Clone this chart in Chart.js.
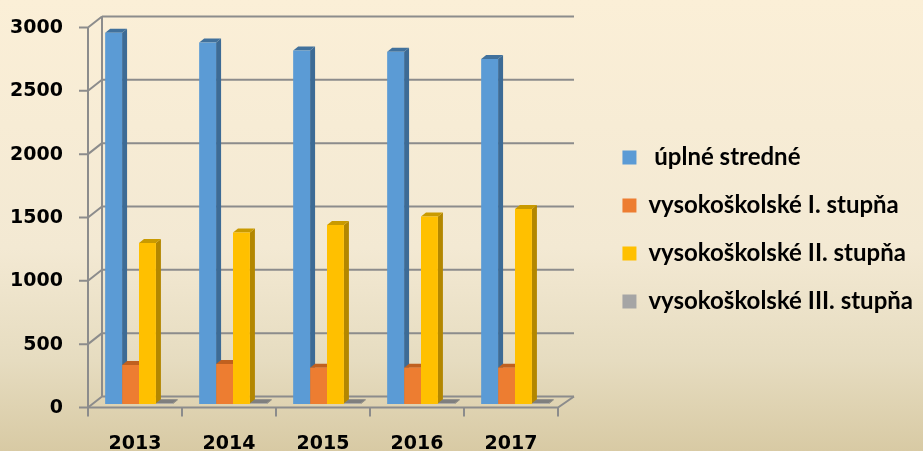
<!DOCTYPE html>
<html>
<head>
<meta charset="utf-8">
<script src="https://cdn.jsdelivr.net/npm/chart.js@4.4.1/dist/chart.umd.min.js"></script>
<style>
  html, body { margin: 0; padding: 0; }
  body {
    width: 923px; height: 451px; overflow: hidden;
    background: linear-gradient(to bottom, #fbefd7 0%, #f3e9d3 55%, #e6dcc0 80%, #d8caa4 100%);
  }
  #wrap { position: relative; width: 923px; height: 451px; }
  canvas { display: block; }
</style>
</head>
<body>
<div id="wrap"><canvas id="chart" width="923" height="451"></canvas></div>
<script>
// ---------------- Datos ----------------
const years = ['2013', '2014', '2015', '2016', '2017'];
const uplneStredne = [2930, 2853, 2790, 2780, 2723];
const vsPrvyStupen = [308, 316, 287, 287, 287];
const vsDruhyStupen = [1270, 1353, 1413, 1480, 1540];
const vsTretiStupen = [6, 6, 6, 6, 6];
const yTicks = [0, 500, 1000, 1500, 2000, 2500, 3000];
const labels = [' úplné stredné', 'vysokoškolské I. stupňa', 'vysokoškolské II. stupňa', 'vysokoškolské III. stupňa'];

const AXIS_FONT = { family: 'DejaVu Sans', weight: 'bold', size: 19 };
const LEGEND_FONT = { family: 'Lato', weight: 'bold', size: 24 };
const LEGEND_PAD = 24;
const PLOT_RIGHT = 562;

// colores: frente, lado, arriba
const palette = [
    { front: '#5b9bd5', side: '#3d6b95', top: '#41719c' },
    { front: '#ed7d31', side: '#b85f22', top: '#c0601f' },
    { front: '#ffc000', side: '#b38700', top: '#c99a00' },
    { front: '#a5a5a5', side: '#777777', top: '#7f7f7f' }
];

const DEPTH_X = 5, DEPTH_Y = -4;   // profundidad de las barras
const WALL_X = 14;                 // profundidad de las paredes

// ancho de la leyenda para dejar el área del gráfico en su sitio
function legendWidth() {
    const c = document.createElement('canvas').getContext('2d');
    c.font = `${LEGEND_FONT.weight} ${LEGEND_FONT.size}px ${LEGEND_FONT.family}`;
    const w = Math.max(...labels.map(l => c.measureText(l).width));
    return LEGEND_PAD + 14 + LEGEND_FONT.size / 2 + w + 10;
}
const gapRight = Math.max(0, 923 - PLOT_RIGHT - legendWidth());

// ---------------- Plugin 3D ----------------
const box3d = {
    id: 'box3d',
    beforeDatasetsDraw(chart) {
        const { ctx, chartArea, scales: { y } } = chart;
        const F = chartArea.left - 4;
        const B = F + WALL_X;
        const FR = chartArea.right - 4;
        const R = FR + 16;
        const front = v => y.getPixelForValue(v) + 3.5;
        const back = v => y.getPixelForValue(v) - 7.5;

        ctx.save();
        ctx.strokeStyle = '#8c8c8c';
        ctx.lineWidth = 2;
        ctx.lineCap = 'butt';

        // pared trasera y lateral
        yTicks.forEach(v => {
            ctx.beginPath();
            ctx.moveTo(B, back(v));
            ctx.lineTo(R, back(v));
            ctx.moveTo(F, front(v));
            ctx.lineTo(B, back(v));
            ctx.moveTo(F - 9, front(v));
            ctx.lineTo(F, front(v));
            ctx.stroke();
        });
        ctx.beginPath();
        ctx.moveTo(B, back(3000));
        ctx.lineTo(B, back(0));
        ctx.moveTo(F, front(3000));
        ctx.lineTo(F, front(0));
        // piso
        ctx.lineTo(FR, front(0));
        ctx.lineTo(R, back(0));
        ctx.stroke();

        // marcas de categorías
        const step = (FR - F) / years.length;
        ctx.beginPath();
        for (let i = 0; i <= years.length; i++) {
            ctx.moveTo(F + i * step, front(0));
            ctx.lineTo(F + i * step, front(0) + 9);
        }
        ctx.stroke();

        // lados y tapas de las barras
        chart.data.datasets.forEach((ds, di) => {
            const meta = chart.getDatasetMeta(di);
            const c = palette[di];
            meta.data.forEach(bar => {
                const l = bar.x - bar.width / 2;
                const r = bar.x + bar.width / 2;
                const t = bar.y;
                const b = bar.base;
                ctx.fillStyle = c.side;
                ctx.beginPath();
                ctx.moveTo(r, t);
                ctx.lineTo(r + DEPTH_X, t + DEPTH_Y);
                ctx.lineTo(r + DEPTH_X, b + DEPTH_Y);
                ctx.lineTo(r, b);
                ctx.closePath();
                ctx.fill();
                ctx.fillStyle = c.top;
                ctx.beginPath();
                ctx.moveTo(l, t);
                ctx.lineTo(l + DEPTH_X, t + DEPTH_Y);
                ctx.lineTo(r + DEPTH_X, t + DEPTH_Y);
                ctx.lineTo(r, t);
                ctx.closePath();
                ctx.fill();
            });
        });
        ctx.restore();
    }
};

// ---------------- Gráfica ----------------
const series = [uplneStredne, vsPrvyStupen, vsDruhyStupen, vsTretiStupen];

new Chart(document.getElementById('chart'), {
    type: 'bar',
    data: {
        labels: years,
        datasets: series.map((data, i) => ({
            label: labels[i],
            data,
            backgroundColor: palette[i].front,
            borderWidth: 0,
            categoryPercentage: 0.72,
            barPercentage: 1
        }))
    },
    options: {
        responsive: false,
        animation: false,
        devicePixelRatio: 1,
        layout: { padding: { top: 8, left: 10, right: 0, bottom: 0 } },
        plugins: {
            tooltip: { enabled: false },
            legend: {
                position: 'right',
                maxWidth: 420,
                labels: {
                    color: '#000',
                    font: LEGEND_FONT,
                    boxWidth: 14,
                    boxHeight: 14,
                    padding: LEGEND_PAD
                }
            }
        },
        scales: {
            x: {
                grid: { display: false, drawTicks: false },
                border: { display: false },
                ticks: { color: '#000', font: AXIS_FONT, padding: 29, labelOffset: -4, maxRotation: 0 },
                afterFit: s => { s.height = 47; }
            },
            y: {
                min: 0,
                max: 3126,
                grid: { display: false, drawTicks: false },
                border: { display: false },
                ticks: {
                    color: '#000', font: AXIS_FONT, padding: 29, labelOffset: 4, autoSkip: false,
                    callback: v => String(v)
                },
                afterBuildTicks: s => { s.ticks = yTicks.map(v => ({ value: v })); },
                afterFit: s => { s.width = 82; s.paddingTop = 0; s.paddingBottom = 0; }
            },
            y2: {
                position: 'right',
                grid: { display: false, drawTicks: false },
                border: { display: false },
                ticks: { display: false },
                afterFit: s => { s.width = gapRight; s.paddingTop = 0; s.paddingBottom = 0; }
            }
        }
    },
    plugins: [box3d]
});
</script>
</body>
</html>
